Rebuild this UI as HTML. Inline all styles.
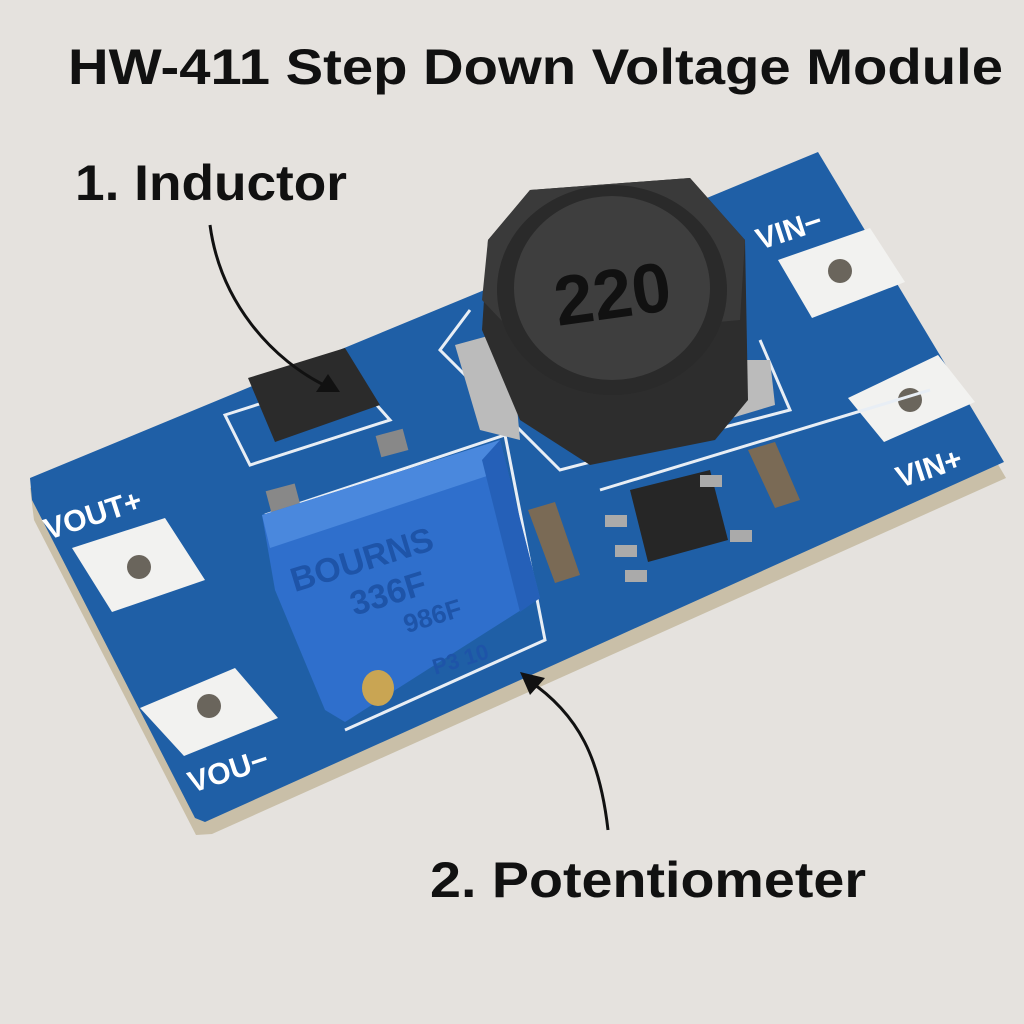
<!DOCTYPE html>
<html><head><style>
html,body{margin:0;padding:0;background:#e5e2de;}
svg{display:block}
text{font-family:"Liberation Sans",sans-serif;font-weight:bold}
</style></head><body>
<svg width="1024" height="1024" viewBox="0 0 1024 1024" xmlns="http://www.w3.org/2000/svg">
<rect width="1024" height="1024" fill="#e5e2de"/>
<text x="68" y="84" font-size="50" textLength="935" lengthAdjust="spacingAndGlyphs" fill="#111">HW-411 Step Down Voltage Module</text>
<text x="75" y="200" font-size="50" textLength="272" lengthAdjust="spacingAndGlyphs" fill="#111">1. Inductor</text>
<text x="430" y="897" font-size="50" textLength="436" lengthAdjust="spacingAndGlyphs" fill="#111">2. Potentiometer</text>
<!-- board edge -->
<polygon points="30,488 820,162 1006,478 212,834 196,835 34,520" fill="#c9bfa8"/>
<!-- board top -->
<polygon points="30,478 818,152 1004,462 205,822 195,818 32,500" fill="#1f5fa6"/>
<!-- pads -->
<g fill="#f2f2f0">
<polygon points="72,548 165,518 205,580 112,612"/>
<polygon points="140,708 235,668 278,718 184,756"/>
<polygon points="778,260 870,228 905,282 812,318"/>
<polygon points="848,398 938,355 975,402 884,442"/>
</g>
<g fill="#6a655c">
<circle cx="139" cy="567" r="12"/><circle cx="209" cy="706" r="12"/>
<circle cx="840" cy="271" r="12"/><circle cx="910" cy="400" r="12"/>
</g>
<g font-size="30" fill="#fff">
<text x="48" y="540" transform="rotate(-18 48 540)">VOUT+</text>
<text x="192" y="793" transform="rotate(-18 192 793)">VOU−</text>
<text x="760" y="250" transform="rotate(-18 760 250)">VIN−</text>
<text x="900" y="488" transform="rotate(-18 900 488)">VIN+</text>
</g>
<!-- silkscreen outlines -->
<g fill="none" stroke="#e8eef5" stroke-width="3">
<polyline points="470,310 440,350 560,470 790,410 760,340"/>
<polygon points="225,415 350,375 390,420 250,465"/>
<polyline points="265,515 505,435 545,640 345,730"/>
<line x1="600" y1="490" x2="930" y2="390"/>
</g>
<!-- inductor base pads -->
<polygon points="455,345 510,330 520,440 480,430" fill="#bbb"/>
<polygon points="725,360 770,360 775,405 725,420" fill="#bbb"/>
<!-- inductor -->
<polygon points="530,190 690,178 745,240 748,400 715,440 590,465 520,420 482,330 488,240" fill="#2d2d2d"/>
<polygon points="530,190 690,178 745,240 740,320 520,340 482,300 488,240" fill="#3a3a3a"/>
<ellipse cx="612" cy="290" rx="115" ry="105" fill="#2a2a2a"/>
<ellipse cx="612" cy="288" rx="98" ry="92" fill="#3e3e3e"/>
<text x="612" y="318" font-size="70" font-weight="normal" text-anchor="middle" fill="#111" transform="rotate(-8 612 290)">220</text>
<!-- small SMD -->
<polygon points="248,378 345,348 380,405 275,442" fill="#2b2b2b"/>
<rect x="378" y="432" width="28" height="22" fill="#888" transform="rotate(-15 392 443)"/>
<rect x="268" y="487" width="30" height="22" fill="#888" transform="rotate(-15 283 498)"/>
<polygon points="528,510 555,502 580,575 555,583" fill="#7a6a55"/>
<polygon points="748,450 775,442 800,500 775,508" fill="#7a6a55"/>
<!-- IC -->
<polygon points="630,490 710,470 728,540 648,562" fill="#262626"/>
<g fill="#aaa"><rect x="605" y="515" width="22" height="12"/><rect x="615" y="545" width="22" height="12"/><rect x="625" y="570" width="22" height="12"/><rect x="700" y="475" width="22" height="12"/><rect x="730" y="530" width="22" height="12"/></g>
<!-- potentiometer -->
<polygon points="262,515 500,440 540,598 345,722 325,710 275,590" fill="#2f6fcc"/>
<polygon points="262,515 500,440 505,470 270,548" fill="#4a88dd"/>
<polygon points="500,440 540,598 520,612 482,460" fill="#2560b8"/>
<g fill="#1e54a8" font-size="34" transform="rotate(-17 400 560)">
<text x="290" y="560">BOURNS</text>
<text x="340" y="600">336F</text>
<text x="385" y="632" font-size="26">986F</text>
<text x="400" y="680" font-size="22">P3 10</text>
</g>
<ellipse cx="378" cy="688" rx="16" ry="18" fill="#c9a553"/>
<!-- arrows -->
<g fill="none" stroke="#111" stroke-width="3">
<path d="M210 225 C220 300 270 360 330 388"/>
<path d="M608 830 C600 760 580 715 528 680"/>
</g>
<polygon points="340,392 316,392 328,374" fill="#111"/>
<polygon points="520,672 545,678 530,695" fill="#111"/>
</svg>
</body></html>
